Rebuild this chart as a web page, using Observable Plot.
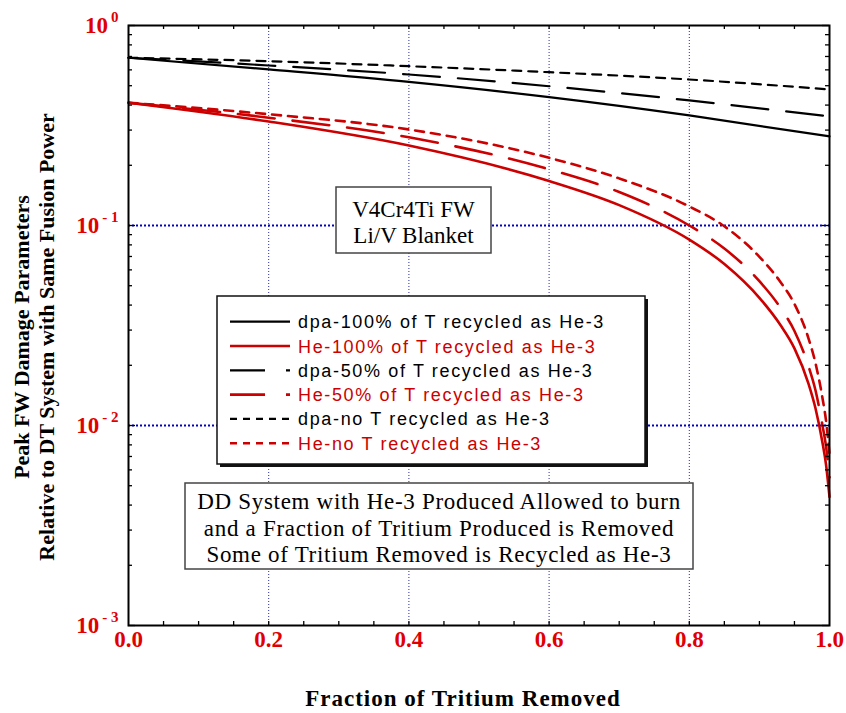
<!DOCTYPE html>
<html><head><meta charset="utf-8">
<script src="https://cdn.jsdelivr.net/npm/d3@7"></script>
<script src="https://cdn.jsdelivr.net/npm/@observablehq/plot@0.6"></script>
<style>html,body{margin:0;padding:0;background:#fff}svg{display:block}</style>
</head><body><div id="chart"></div>
<script>
// ---- data ----
const fracDpa = [0, 0.2, 0.4, 0.6, 0.8, 1.0];
const dpa100 = [0.690, 0.603, 0.522, 0.438, 0.355, 0.279];
const dpa50  = [0.690, 0.631, 0.569, 0.497, 0.422, 0.351];
const dpaNo  = [0.690, 0.663, 0.626, 0.584, 0.537, 0.479];
const fracHe = [0, 0.2, 0.4, 0.6, 0.7, 0.8, 0.85, 0.9, 0.93, 0.95, 0.97, 0.98, 0.99, 0.995, 1.0];
const he100 = [0.411, 0.331, 0.251, 0.167, 0.1265, 0.0850, 0.0642, 0.0435, 0.0318, 0.0243, 0.0162, 0.0122, 0.0082, 0.0064, 0.0044];
const he50  = [0.411, 0.346, 0.276, 0.191, 0.147, 0.1000, 0.0767, 0.0527, 0.0388, 0.0297, 0.0198, 0.0150, 0.0100, 0.0079, 0.0055];
const heNo  = [0.411, 0.360, 0.302, 0.218, 0.172, 0.1244, 0.0991, 0.0697, 0.0522, 0.0405, 0.0273, 0.0205, 0.0137, 0.0106, 0.0072];

const xTicks = [0, 0.2, 0.4, 0.6, 0.8, 1.0];
const xTickLabels = ["0.0", "0.2", "0.4", "0.6", "0.8", "1.0"];
const xMinor = [0.05,0.1,0.15,0.2,0.25,0.3,0.35,0.4,0.45,0.5,0.55,0.6,0.65,0.7,0.75,0.8,0.85,0.9,0.95];
const xGrid = [0.2, 0.4, 0.6, 0.8];
const yMajor = [1, 0.1, 0.01, 0.001];
const yExp = ["0", "- 1", "- 2", "- 3"];
const yGrid = [0.1, 0.01];
const yMinor = [2,3,4,5,6,7,8,9].flatMap(m => [m*1e-3, m*1e-2, m*1e-1]);

const legendLabels = [
  "dpa-100% of T recycled as He-3",
  "He-100% of T recycled as He-3",
  "dpa-50% of T recycled as He-3",
  "He-50% of T recycled as He-3",
  "dpa-no T recycled as He-3",
  "He-no T recycled as He-3"
];
const box1Lines = ["V4Cr4Ti FW", "Li/V Blanket"];
const box2Lines = [
  "DD System with He-3 Produced Allowed to burn",
  "and a Fraction of Tritium Produced is Removed",
  "Some of Tritium Removed is Recycled as He-3"
];
const xTitle = "Fraction of Tritium Removed";
const yTitle = ["Peak FW Damage Parameters", "Relative to DT System with Same Fusion Power"];

// ---- styles ----
const BLACK = "#000", RED = "#cc0000", LABELRED = "#e00000";
const SERIF = "'Liberation Serif','Times New Roman',serif";
const SANS = "'Liberation Sans',Arial,sans-serif";
const LONGDASH = "37,18";
const series = [
  {x: fracDpa, y: dpaNo,  color: BLACK, w: 2.2, dash: "9,7"},
  {x: fracDpa, y: dpa50,  color: BLACK, w: 2.2, dash: LONGDASH},
  {x: fracDpa, y: dpa100, color: BLACK, w: 2.2, dash: null},
  {x: fracHe,  y: heNo,   color: RED,   w: 2.6, dash: "9,7"},
  {x: fracHe,  y: he50,   color: RED,   w: 2.6, dash: LONGDASH},
  {x: fracHe,  y: he100,  color: RED,   w: 2.6, dash: null}
];
const legendStyle = [
  {color: BLACK, w: 2.2, dash: null},
  {color: RED, w: 2.6, dash: null},
  {color: BLACK, w: 2.2, dash: "35,21,4"},
  {color: RED, w: 2.6, dash: "35,21,4"},
  {color: BLACK, w: 2.2, dash: "7,6"},
  {color: RED, w: 2.6, dash: "7,6"}
];

const W = 846, H = 713, ML = 128, MR = 17, MT = 25, MB = 88;
const PW = W - ML - MR, PH = H - MT - MB;

const ctx = document.createElement("canvas").getContext("2d");
ctx.font = `bold 15px ${SERIF}`;

const marks = [
  Plot.ruleX(xGrid, {stroke: "#2a2aa8", strokeWidth: 1, strokeDasharray: "1,2"}),
  Plot.ruleY(yGrid, {stroke: "#0000cc", strokeWidth: 2, strokeDasharray: "2,2"})
];
for (const s of series) {
  marks.push(Plot.line(s.x.map((f, i) => ({f, v: s.y[i]})), {
    x: "f", y: "v", curve: "monotone-x", stroke: s.color, strokeWidth: s.w,
    strokeDasharray: s.dash || undefined
  }));
}
marks.push(
  Plot.ruleX(xMinor, {insetTop: PH - 4, stroke: BLACK, strokeWidth: 1.3}),
  Plot.ruleX(xMinor, {insetBottom: PH - 4, stroke: BLACK, strokeWidth: 1.3}),
  Plot.ruleY(yMinor, {insetRight: PW - 4, stroke: BLACK, strokeWidth: 1.3}),
  Plot.ruleY(yMinor, {insetLeft: PW - 4, stroke: BLACK, strokeWidth: 1.3}),
  Plot.ruleY(yMajor, {insetRight: PW - 7, stroke: BLACK, strokeWidth: 1.3}),
  Plot.ruleY(yMajor, {insetLeft: PW - 7, stroke: BLACK, strokeWidth: 1.3}),
  Plot.frame({stroke: BLACK, strokeWidth: 2}),
  Plot.text(xTicks, {x: d => d, text: (d, i) => xTickLabels[i], frameAnchor: "bottom", dy: 21,
    fill: LABELRED, fontSize: 23, fontWeight: "bold", fontFamily: SERIF})
);
yMajor.forEach((v, i) => {
  const supW = ctx.measureText(yExp[i]).width;
  marks.push(
    Plot.text([v], {y: d => d, text: () => yExp[i], frameAnchor: "left", textAnchor: "end", dx: -10, dy: -8,
      fill: LABELRED, fontSize: 15, fontWeight: "bold", fontFamily: SERIF}),
    Plot.text([v], {y: d => d, text: () => "10", frameAnchor: "left", textAnchor: "end", dx: -10 - supW - 3, dy: 0,
      fill: LABELRED, fontSize: 23, fontWeight: "bold", fontFamily: SERIF})
  );
});

const plot = Plot.plot({
  width: W, height: H, marginLeft: ML, marginRight: MR, marginTop: MT, marginBottom: MB,
  x: {domain: [0, 1], axis: null},
  y: {type: "log", domain: [1e-3, 1], axis: null},
  style: {background: "white", overflow: "visible"},
  marks
});

const svg = d3.select(plot);
// axis titles
svg.append("text").attr("x", 463).attr("y", 706).attr("text-anchor", "middle")
  .attr("font-family", SERIF).attr("font-weight", "bold").attr("font-size", 23)
  .attr("letter-spacing", 1).text(xTitle);
yTitle.forEach((t, i) => {
  svg.append("text").attr("transform", `translate(${[29, 54][i]},337) rotate(-90)`)
    .attr("text-anchor", "middle").attr("font-family", SERIF).attr("font-weight", "bold")
    .attr("font-size", 22).text(t);
});
// box 1
const b1 = svg.append("g");
b1.append("rect").attr("x", 336).attr("y", 187).attr("width", 155).attr("height", 66)
  .attr("fill", "white").attr("stroke", "#444").attr("stroke-width", 1.5);
box1Lines.forEach((t, i) => b1.append("text").attr("x", 413.5).attr("y", 217 + i * 26.3)
  .attr("text-anchor", "middle").attr("font-family", SERIF).attr("font-size", 23).text(t));
// legend
const lg = svg.append("g");
lg.append("rect").attr("x", 220).attr("y", 299).attr("width", 428).attr("height", 168).attr("fill", "#111");
lg.append("rect").attr("x", 217).attr("y", 296).attr("width", 428).attr("height", 168)
  .attr("fill", "white").attr("stroke", "#111").attr("stroke-width", 1.5);
legendLabels.forEach((t, i) => {
  const yy = 321.7 + i * 24.3, st = legendStyle[i];
  lg.append("line").attr("x1", 230).attr("x2", 290).attr("y1", yy).attr("y2", yy)
    .attr("stroke", st.color).attr("stroke-width", st.w).attr("stroke-dasharray", st.dash);
  lg.append("text").attr("x", 298).attr("y", yy + 6.5).attr("text-anchor", "start")
    .attr("font-family", SANS).attr("font-size", 18)
    .attr("letter-spacing", 1.65).attr("fill", st.color === RED ? RED : BLACK).text(t);
});
// box 2
const b2 = svg.append("g");
b2.append("rect").attr("x", 185).attr("y", 483).attr("width", 508).attr("height", 86)
  .attr("fill", "white").attr("stroke", "#444").attr("stroke-width", 1.5);
box2Lines.forEach((t, i) => b2.append("text").attr("x", 439).attr("y", 509 + i * 26.7)
  .attr("text-anchor", "middle").attr("font-family", SERIF).attr("font-size", 23)
  .attr("letter-spacing", 0.7).text(t));

document.getElementById("chart").appendChild(plot);
</script>
</body></html>
